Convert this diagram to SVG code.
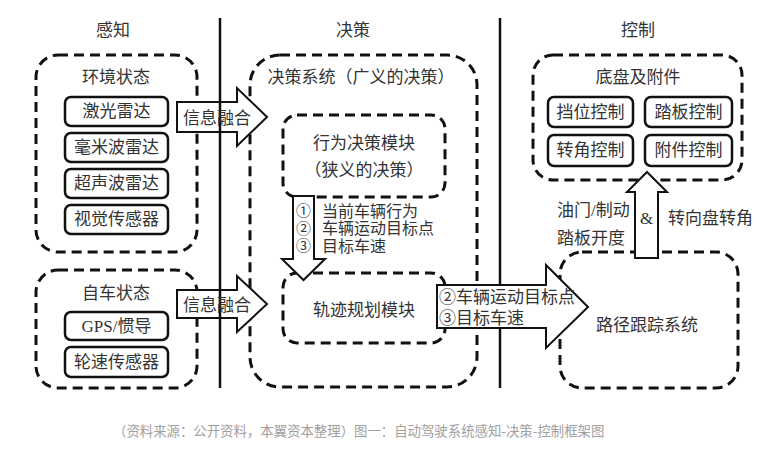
<svg xmlns="http://www.w3.org/2000/svg" width="783" height="456" viewBox="0 0 783 456">
<style>
  .t { font-family: "Liberation Serif", "Noto Sans CJK SC", serif; font-size: 17px; fill: #333; dominant-baseline: central; }
  .c { text-anchor: middle; }
  .s { font-size: 16px; }
  .n { font-size: 15px; }
  .dash { fill: none; stroke: #111; stroke-width: 3; stroke-dasharray: 10 6; }
  .box { fill: #fff; stroke: #111; stroke-width: 2.5; }
  .arrow { fill: #fff; stroke: #111; stroke-width: 2; stroke-linejoin: miter; }
  .vline { stroke: #111; stroke-width: 2.5; }
  .cap { font-family: "Noto Sans CJK SC", sans-serif; font-size: 13.4px; fill: #a0a0a0; dominant-baseline: central; }
</style>
<rect width="783" height="456" fill="#fff"/>

<g id="titles">
  <text class="t c" x="113" y="30">感知</text>
  <text class="t c" x="353" y="30">决策</text>
  <text class="t c" x="638" y="30">控制</text>
</g>

<g id="env">
  <rect class="dash" x="36" y="55" width="161" height="197" rx="22"/>
  <text class="t c" x="116" y="77">环境状态</text>
  <g id="lidar"><rect class="box" x="65" y="97" width="103" height="29" rx="6"/><text class="t c" x="116.5" y="111.5">激光雷达</text></g>
  <g id="mmw"><rect class="box" x="65" y="133" width="103" height="29" rx="6"/><text class="t c" x="116.5" y="147.5">毫米波雷达</text></g>
  <g id="ultra"><rect class="box" x="65" y="169" width="103" height="29" rx="6"/><text class="t c" x="116.5" y="183.5">超声波雷达</text></g>
  <g id="vision"><rect class="box" x="65" y="205" width="103" height="29" rx="6"/><text class="t c" x="116.5" y="219.5">视觉传感器</text></g>
</g>

<g id="ego">
  <rect class="dash" x="36" y="270" width="161" height="118" rx="22"/>
  <text class="t c" x="116" y="293">自车状态</text>
  <g id="gps"><rect class="box" x="65" y="312" width="103" height="28" rx="6"/><text class="t c" x="116.5" y="326">GPS/惯导</text></g>
  <g id="wheel"><rect class="box" x="65" y="347" width="103" height="30" rx="6"/><text class="t c" x="116.5" y="362">轮速传感器</text></g>
</g>

<g id="decision">
  <rect class="dash" x="250" y="55" width="227" height="332" rx="30"/>
  <text class="t c" x="361" y="77">决策系统（广义的决策）</text>
</g>
<g id="behavior">
  <rect class="dash" x="283" y="115" width="162" height="82" rx="14"/>
  <text class="t c" x="364" y="143">行为决策模块</text>
  <text class="t c" x="364" y="170">（狭义的决策）</text>
</g>
<g id="planning">
  <rect class="dash" x="283" y="273" width="162" height="70" rx="14"/>
  <text class="t c" x="364" y="310">轨迹规划模块</text>
</g>

<g id="chassis">
  <rect class="dash" x="533" y="55" width="209" height="125" rx="20"/>
  <text class="t c" x="638" y="77">底盘及附件</text>
  <g id="gear"><rect class="box" x="548" y="97" width="85" height="30" rx="6"/><text class="t c" x="590.5" y="112">挡位控制</text></g>
  <g id="pedal"><rect class="box" x="645" y="97" width="87" height="30" rx="6"/><text class="t c" x="688.5" y="112">踏板控制</text></g>
  <g id="steer"><rect class="box" x="548" y="135" width="85" height="31" rx="6"/><text class="t c" x="590.5" y="150.5">转角控制</text></g>
  <g id="acc"><rect class="box" x="645" y="135" width="87" height="31" rx="6"/><text class="t c" x="688.5" y="150.5">附件控制</text></g>
</g>

<g id="tracking">
  <rect class="dash" x="560" y="252" width="178" height="136" rx="22"/>
  <text class="t c" x="647" y="325">路径跟踪系统</text>
</g>

<g id="connectors">
  <line class="vline" x1="500" y1="18" x2="500" y2="388"/>
  <polygon class="arrow" points="177,102 237,102 237,88 267,117 237,146 237,132 177,132"/>
  <polygon class="arrow" points="177,290 237,290 237,276 267,304 237,332 237,318 177,318"/>
  <line class="vline" x1="220" y1="18" x2="220" y2="388"/>
  <text class="t c" x="217" y="118">信息融合</text>
  <text class="t c" x="217" y="305">信息融合</text>

  <polygon class="arrow" points="293,196 314,196 314,259 325,259 303.5,280 282,259 293,259"/>
  <text class="t c n" x="303.5" y="211">①</text>
  <text class="t c n" x="303.5" y="228.5">②</text>
  <text class="t c n" x="303.5" y="246">③</text>
  <text class="t s" x="322" y="211">当前车辆行为</text>
  <text class="t s" x="322" y="228.5">车辆运动目标点</text>
  <text class="t s" x="322" y="246">目标车速</text>

  <polygon class="arrow" points="437,285 546,285 546,265 588,307 546,348 546,328 437,328"/>
  <text class="t" x="439" y="297">②车辆运动目标点</text>
  <text class="t" x="439" y="318">③目标车速</text>

  <polygon class="arrow" points="635,258 635,192 627,192 647,172 667,192 658,192 658,258"/>
  <text class="t" x="557" y="210">油门/制动</text>
  <text class="t" x="557" y="238">踏板开度</text>
  <text class="t c" x="646.5" y="218">&amp;</text>
  <text class="t" x="668" y="218">转向盘转角</text>
</g>

<text class="cap" x="113" y="430">（资料来源：公开资料，本翼资本整理）图一：自动驾驶系统感知-决策-控制框架图</text>
</svg>
